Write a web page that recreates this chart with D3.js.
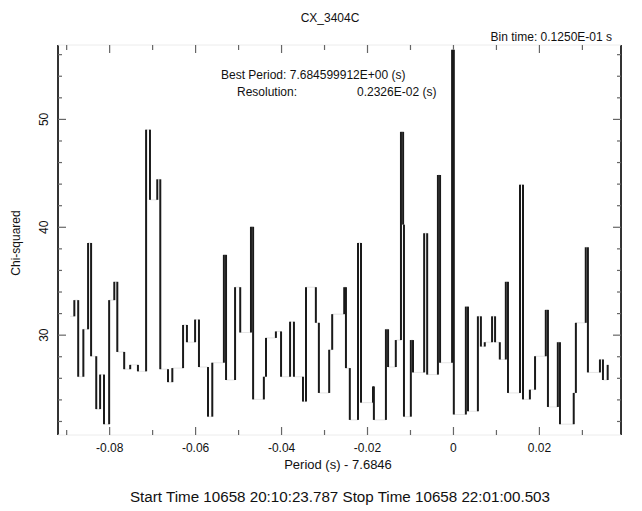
<!DOCTYPE html>
<html>
<head>
<meta charset="utf-8">
<script src="https://cdn.jsdelivr.net/npm/d3@7"></script>
<style>
  html, body { margin: 0; padding: 0; background: #fff; }
  svg { display: block; font-family: "Liberation Sans", Arial, sans-serif; }
</style>
</head>
<body>
<svg id="chart" width="642" height="511"></svg>
<script>
// efsearch result: chi-squared against trial period offset (s) from 7.6846 s
const periodOffset = [
  -0.0891, -0.0881, -0.0872, -0.0860, -0.0849, -0.0842, -0.0830, -0.0821, -0.0812, -0.0800,
  -0.0788, -0.0781, -0.0765, -0.0751, -0.0733, -0.0714, -0.0705, -0.0688, -0.0681, -0.0663,
  -0.0653, -0.0628, -0.0619, -0.0600, -0.0591, -0.0570, -0.0560, -0.0533, -0.0528, -0.0507,
  -0.0495, -0.0470, -0.0465, -0.0440, -0.0435, -0.0412, -0.0400, -0.0379, -0.0370, -0.0349,
  -0.0342, -0.0319, -0.0312, -0.0288, -0.0281, -0.0253, -0.0249, -0.0240, -0.0221, -0.0214,
  -0.0186, -0.0184, -0.0156, -0.0151, -0.0133, -0.0121, -0.0116, -0.0114, -0.0098, -0.0093,
  -0.0067, -0.0060, -0.0035, -0.0030, -0.0002, 0.0002, 0.0030, 0.0035, 0.0058, 0.0065,
  0.0074, 0.0091, 0.0098, 0.0109, 0.0123, 0.0128, 0.0156, 0.0163, 0.0179, 0.0191,
  0.0216, 0.0221, 0.0244, 0.0249, 0.0281, 0.0286, 0.0309, 0.0314, 0.0342, 0.0349,
  0.0360
];
const chiSquared = [
  31.7, 33.2, 26.1, 30.5, 38.5, 28.0, 23.1, 26.3, 21.7, 33.2,
  34.9, 28.4, 26.8, 27.2, 26.6, 49.0, 42.5, 44.4, 26.8, 25.6,
  26.9, 30.9, 29.3, 31.4, 27.0, 22.4, 27.4, 37.4, 25.8, 34.4,
  30.2, 40.0, 24.0, 26.1, 29.7, 30.3, 26.1, 31.2, 26.1, 23.8,
  34.4, 31.1, 24.6, 28.6, 31.9, 34.4, 26.9, 22.1, 38.5, 23.7,
  25.2, 22.1, 30.5, 27.0, 29.5, 48.8, 40.2, 22.4, 29.5, 26.5,
  39.4, 26.3, 44.8, 27.4, 56.4, 22.6, 32.6, 22.9, 31.7, 28.9,
  29.3, 31.7, 29.3, 27.7, 34.9, 24.6, 43.9, 24.0, 24.9, 28.0,
  32.3, 23.3, 29.3, 21.7, 24.6, 31.1, 38.1, 26.5, 27.7, 25.8,
  27.2
];

const xLabelledTicks = [-0.08, -0.06, -0.04, -0.02, 0, 0.02];
const xTickText = ["-0.08", "-0.06", "-0.04", "-0.02", "0", "0.02"];
const xMinorTicks = [-0.09, -0.07, -0.05, -0.03, -0.01, 0.01, 0.03];
const yLabelledTicks = [30, 40, 50];
const yMinorTicks = [22, 24, 26, 28, 32, 34, 36, 38, 42, 44, 46, 48, 52, 54, 56];

const titleText = "CX_3404C";
const binTimeText = "Bin time:  0.1250E-01 s";
const bestPeriodText = "Best Period:  7.684599912E+00 (s)";
const resolutionLabel = "Resolution:";
const resolutionValue = "0.2326E-02  (s)";
const xAxisTitle = "Period (s) - 7.6846";
const yAxisTitle = "Chi-squared";
const timeSpanText = "Start Time 10658 20:10:23.787   Stop Time 10658 22:01:00.503";

const svg = d3.select("#chart");
const plotLeft = 58, plotRight = 621, plotTop = 45, plotBottom = 435;

const x = d3.scaleLinear().domain([-0.0919, 0.0391]).range([plotLeft, plotRight]);
const y = d3.scaleLinear().domain([20.7, 56.85]).range([plotBottom, plotTop]);

// frame: vertical sides dark, horizontal sides faint
svg.append("line").attr("x1", plotLeft).attr("x2", plotLeft).attr("y1", plotTop).attr("y2", plotBottom)
  .attr("stroke", "#333").attr("stroke-width", 2);
svg.append("line").attr("x1", plotRight).attr("x2", plotRight).attr("y1", plotTop).attr("y2", plotBottom)
  .attr("stroke", "#333").attr("stroke-width", 2);
svg.append("line").attr("x1", plotLeft).attr("x2", plotRight).attr("y1", plotTop).attr("y2", plotTop)
  .attr("stroke", "#ececec").attr("stroke-width", 1);
svg.append("line").attr("x1", plotLeft).attr("x2", plotRight).attr("y1", plotBottom).attr("y2", plotBottom)
  .attr("stroke", "#ececec").attr("stroke-width", 1);

function styleAxis(g) {
  g.select(".domain").remove();
  g.selectAll(".tick line").attr("stroke", "#666").attr("stroke-width", 1.2);
  g.selectAll(".tick text").attr("fill", "#111").attr("font-size", 12);
}

// inward ticks on all four sides
svg.append("g").attr("transform", `translate(0,${plotBottom})`)
  .call(d3.axisBottom(x).tickValues(xLabelledTicks).tickSize(-8).tickPadding(8)
    .tickFormat((d, i) => xTickText[i]))
  .call(styleAxis);
svg.append("g").attr("transform", `translate(0,${plotBottom})`)
  .call(d3.axisBottom(x).tickValues(xMinorTicks).tickSize(-5).tickFormat(""))
  .call(styleAxis);
svg.append("g").attr("transform", `translate(0,${plotTop})`)
  .call(d3.axisTop(x).tickValues(xLabelledTicks).tickSize(-8).tickFormat(""))
  .call(styleAxis);
svg.append("g").attr("transform", `translate(0,${plotTop})`)
  .call(d3.axisTop(x).tickValues(xMinorTicks).tickSize(-5).tickFormat(""))
  .call(styleAxis);

const yAxisG = svg.append("g").attr("transform", `translate(${plotLeft},0)`)
  .call(d3.axisLeft(y).tickValues(yLabelledTicks).tickSize(-8).tickFormat(d3.format("d")))
  .call(styleAxis);
yAxisG.selectAll(".tick text")
  .attr("x", 0).attr("dy", 0)
  .attr("text-anchor", "middle")
  .attr("transform", "translate(-10,0) rotate(-90)");
svg.append("g").attr("transform", `translate(${plotLeft},0)`)
  .call(d3.axisLeft(y).tickValues(yMinorTicks).tickSize(-4).tickFormat(""))
  .call(styleAxis);
svg.append("g").attr("transform", `translate(${plotRight},0)`)
  .call(d3.axisRight(y).tickValues(yLabelledTicks).tickSize(-8).tickFormat(""))
  .call(styleAxis);
svg.append("g").attr("transform", `translate(${plotRight},0)`)
  .call(d3.axisRight(y).tickValues(yMinorTicks).tickSize(-4).tickFormat(""))
  .call(styleAxis);

// chi-squared curve drawn as a histogram-style step line
const pts = periodOffset.map((p, i) => [p, chiSquared[i]]);
svg.append("path")
  .datum(pts)
  .attr("fill", "none")
  .attr("stroke", "#dedede")
  .attr("stroke-width", 0.8)
  .attr("d", d3.line().curve(d3.curveStepAfter).x(d => x(d[0])).y(d => y(d[1])));

// the rises and falls between neighbouring trial periods
svg.append("g")
  .selectAll("line")
  .data(d3.pairs(pts))
  .join("line")
  .attr("x1", d => x(d[1][0]))
  .attr("x2", d => x(d[1][0]))
  .attr("y1", d => y(d[0][1]))
  .attr("y2", d => y(d[1][1]))
  .attr("stroke", "#1a1a1a")
  .attr("stroke-width", 2);

// annotations
svg.append("text").attr("x", 330).attr("y", 22).attr("text-anchor", "middle")
  .attr("font-size", 12).attr("fill", "#111").text(titleText);
svg.append("text").attr("x", 612).attr("y", 41).attr("text-anchor", "end")
  .attr("font-size", 12).attr("fill", "#111").text(binTimeText);
svg.append("text").attr("x", 221).attr("y", 79)
  .attr("font-size", 12).attr("fill", "#111").text(bestPeriodText);
svg.append("text").attr("x", 237).attr("y", 96)
  .attr("font-size", 12).attr("fill", "#111").text(resolutionLabel);
svg.append("text").attr("x", 357).attr("y", 96)
  .attr("font-size", 12).attr("fill", "#111").text(resolutionValue);

svg.append("text").attr("x", 338).attr("y", 469).attr("text-anchor", "middle")
  .attr("font-size", 13).attr("fill", "#111").text(xAxisTitle);
svg.append("text").attr("transform", "translate(20,243) rotate(-90)")
  .attr("text-anchor", "middle").attr("font-size", 12).attr("fill", "#111").text(yAxisTitle);
svg.append("text").attr("x", 130).attr("y", 502)
  .attr("font-size", 14).attr("fill", "#111")
  .attr("textLength", 420).attr("lengthAdjust", "spacingAndGlyphs")
  .text(timeSpanText);
</script>
</body>
</html>
